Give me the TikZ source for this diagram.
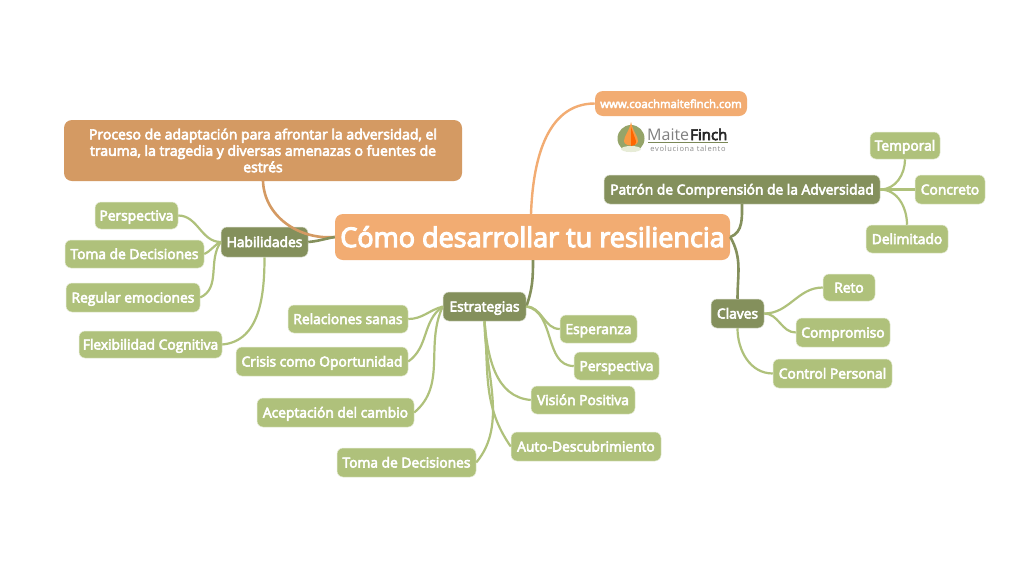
\documentclass[tikz,border=0pt]{standalone}
\usepackage{fontspec}
\setmainfont{Open Sans}[FakeBold=4.2]
\newfontfamily\logofont{Open Sans}
\newfontfamily\logobold{Open Sans}[FakeBold=4]
\definecolor{peach}{HTML}{F2AC72}
\definecolor{clay}{HTML}{D49A63}
\definecolor{moss}{HTML}{84905C}
\definecolor{leaf}{HTML}{AFC17B}
\tikzset{
  box/.style={rounded corners=6pt,text=white,font=\fontsize{13.8}{16.4}\selectfont,
    inner sep=0pt,align=center,draw=white!70!leaf,line width=.5pt,text height=11pt,text depth=1pt},
  notebox/.style={box,draw=none,rounded corners=8pt},
  leafbox/.style={box,fill=leaf},
  branchbox/.style={box,fill=moss,draw=white!70!moss},
  leaflink/.style={draw=leaf,line width=2.2pt},
  branchlink/.style={draw=moss,line width=2.6pt},
}
\newcommand{\mapbox}[7]{% style, name, x0, x1, y0, y1, text
  \node[#1,minimum width=#4pt-#3pt,minimum height=#6pt-#5pt] (#2)
    at ({(#3+#4)/2},{-(#5+#6)/2}) {#7};}
\begin{document}
\begin{tikzpicture}[x=1pt,y=1pt]
  \useasboundingbox[fill=white] (0,0) rectangle (1030,-579);

  % central topic and the two orange notes
  \mapbox{notebox,fill=peach,font=\fontsize{27}{32}\selectfont,text height=22pt,text depth=2pt}{central}{335}{730}{214}{260}{Cómo desarrollar tu resiliencia}
  \mapbox{notebox,fill=peach,font=\fontsize{11.3}{14}\selectfont,text height=10pt,text depth=1pt}{web}{595}{747}{91}{116}{www.coachmaitefinch.com}
  \mapbox{notebox,fill=clay,font=\fontsize{14}{16.4}\selectfont,text height=,text depth=}{desc}{64}{462}{120}{181}{Proceso de adaptación para afrontar la adversidad, el\\ trauma, la tragedia y diversas amenazas o fuentes de\\ estrés}

  % branches
  \mapbox{branchbox}{habil}{221}{308}{227}{257}{Habilidades}
  \mapbox{branchbox}{estra}{443}{526}{292}{321}{Estrategias}
  \mapbox{branchbox}{patron}{604}{880}{175}{204}{Patrón de Comprensión de la Adversidad}
  \mapbox{branchbox}{claves}{711}{764}{299}{328}{Claves}

  % Habilidades
  \mapbox{leafbox}{hpers}{95}{178}{202}{229}{Perspectiva}
  \mapbox{leafbox}{htoma}{65}{204}{240}{268}{Toma de Decisiones}
  \mapbox{leafbox}{hregu}{66}{200}{283}{312}{Regular emociones}
  \mapbox{leafbox}{hflex}{79}{222}{331}{358}{Flexibilidad Cognitiva}

  % Estrategias
  \mapbox{leafbox}{erela}{288}{408}{305}{333}{Relaciones sanas}
  \mapbox{leafbox}{ecris}{236}{408}{347}{376}{Crisis como Oportunidad}
  \mapbox{leafbox}{eacep}{257}{414}{398}{427}{Aceptación del cambio}
  \mapbox{leafbox}{etoma}{337}{476}{448}{477}{Toma de Decisiones}
  \mapbox{leafbox}{eespe}{560}{637}{315}{343}{Esperanza}
  \mapbox{leafbox}{epers}{574}{659}{352}{380}{Perspectiva}
  \mapbox{leafbox}{evisi}{531}{635}{386}{414}{Visión Positiva}
  \mapbox{leafbox}{eauto}{511}{661}{432}{461}{Auto-Descubrimiento}

  % Patron
  \mapbox{leafbox}{ptemp}{870}{940}{132}{159}{Temporal}
  \mapbox{leafbox}{pconc}{915}{985}{175}{204}{Concreto}
  \mapbox{leafbox}{pdeli}{866}{948}{225}{253}{Delimitado}

  % Claves
  \mapbox{leafbox}{creto}{823}{875}{274}{301}{Reto}
  \mapbox{leafbox}{ccomp}{796}{890}{318}{347}{Compromiso}
  \mapbox{leafbox}{ccont}{773}{892}{359}{388}{Control Personal}

  % free ends on the long sides of the boxes
  \coordinate (descfoot) at (263,-181);
  \coordinate (webfoot) at (531,-214);
  \coordinate (estrafoot) at (533,-260);
  \coordinate (patronfoot) at (742,-204);

  % connectors from the central topic
  \draw[draw=clay,line width=2.6pt] (central.west) to[out=185,in=-88] (descfoot);
  \draw[draw=peach,line width=2.4pt] (webfoot) to[out=88,in=180] (web.west);
  \draw[branchlink] (central.west) to[out=190,in=5] (habil.east);
  \draw[branchlink] (estrafoot) to[out=-90,in=70] (estra.east);
  \draw[branchlink] (central.east) to[out=20,in=-90] (patronfoot);
  \draw[branchlink] (central.east) to[out=-60,in=90] (claves.north);

  % connectors of the leaves
  \draw[leaflink] (hpers.east) to[out=0,in=180] (habil.west);
  \draw[leaflink] (htoma.east) to[out=25,in=205] (habil.west);
  \draw[leaflink] (hregu.east) to[out=25,in=235] (habil.west);
  \draw[leaflink] (hflex.east) to[out=5,in=-90] (habil.south);
  \draw[leaflink] (erela.east) to[out=0,in=195] (estra.west);
  \draw[leaflink] (ecris.east) to[out=35,in=215] (estra.west);
  \draw[leaflink] (eacep.east) to[out=40,in=245] (estra.west);
  \draw[leaflink] (etoma.east) to[out=50,in=-90,looseness=.9] (estra.south);
  \draw[leaflink] (eespe.west) to[out=180,in=0] (estra.east);
  \draw[leaflink] (epers.west) to[out=180,in=-10] (estra.east);
  \draw[leaflink] (evisi.west) to[out=175,in=-85] (estra.south);
  \draw[leaflink] (eauto.west) to[out=125,in=-85] (estra.south);
  \draw[leaflink] (patron.east) to[out=0,in=-90] (ptemp.south);
  \draw[leaflink] (patron.east) -- (pconc.west);
  \draw[leaflink] (patron.east) to[out=0,in=90] (pdeli.north);
  \draw[leaflink] (claves.east) to[out=0,in=180] (creto.west);
  \draw[leaflink] (claves.east) to[out=0,in=180] (ccomp.west);
  \draw[leaflink] (claves.south) to[out=-90,in=180] (ccont.west);

  % logo
  \fill[leaf!85!black] (631,-138.5) circle (13.5pt);
  \fill[white!70!leaf] (631,-149) ellipse (10pt and 3pt);
  \fill[peach!60!orange] (631,-122) .. controls (633,-132) and (638,-136) .. (638,-141)
    .. controls (638,-147) and (624,-147) .. (624,-141) .. controls (624,-136) and (629,-132) .. (631,-122);
  \fill[orange!80!red] (631,-127) -- (636,-141) .. controls (636,-145) and (634,-146) .. (631,-146) -- cycle;
  \node[anchor=west,inner sep=0pt,text=black!50,font=\logofont\fontsize{16}{18}\selectfont] (logoa) at (647,-134.5) {Maite};
  \node[anchor=west,inner sep=0pt,text=black!85,font=\logobold\fontsize{15}{18}\selectfont] (logob) at (690,-134.5) {Finch};
  \draw[leaf!70!black,line width=1pt] (648,-142.5) -- (728,-142.5);
  \node[anchor=center,inner sep=0pt,text=black!45,font=\logofont\fontsize{7.5}{9}\selectfont\addfontfeature{LetterSpace=9}] (logoc) at (688,-148.5) {evoluciona talento};
\end{tikzpicture}
\end{document}
